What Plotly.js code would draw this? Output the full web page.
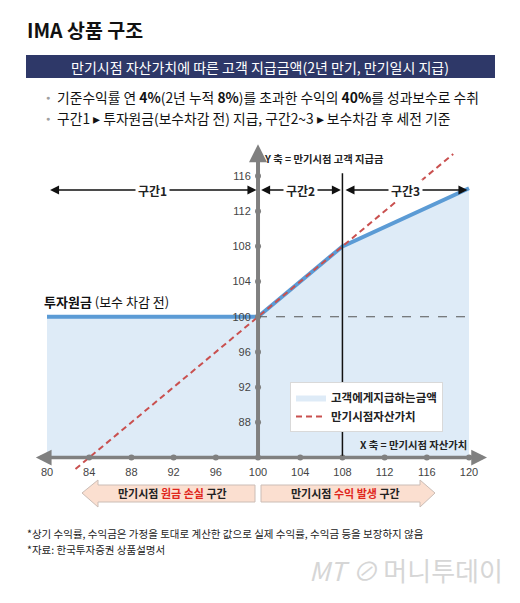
<!DOCTYPE html>
<html><head><meta charset="utf-8">
<script src="https://cdn.plot.ly/plotly-3.0.1.min.js"></script>
<style>html,body{margin:0;padding:0;background:#fff}#c{width:520px;height:603px}</style>
</head><body><div id="c"></div>
<script>
// ---- data ----
const assetValue = [80, 100, 108, 120];          // 만기시점 자산가치
const payout = [100, 100, 108, 114.6];           // 고객 지급금액
const diagX = [82.7, 118.5];                     // 만기시점자산가치 (y = x)
const diagY = [82.7, 118.5];
const xTicks = [80, 84, 88, 92, 96, 100, 104, 108, 112, 116, 120];
const yTicks = [88, 92, 96, 100, 104, 108, 112, 116];
const zoneNames = ['구간1', '구간2', '구간3'];
const zoneFrom = [80, 100, 108];
const zoneTo = [100, 108, 120];
const zoneLevel = 114.4;
const axisBase = 84;
const principal = 100;
const yAxisTop = 119.6;
const xAxisEnds = [78.8, 121.7];
const bullets = [
  '기준수익률 연 <b>4%</b>(2년 누적 <b>8%</b>)를 초과한 수익의 <b>40%</b>를 성과보수로 수취',
  '구간1 ▸ 투자원금(보수차감 전) 지급, 구간2~3 ▸ 보수차감 후 세전 기준'
];
const notes = [
  '*상기 수익률, 수익금은 가정을 토대로 계산한 값으로 실제 수익률, 수익금 등을 보장하지 않음',
  '*자료: 한국투자증권 상품설명서'
];

// ---- layout helpers ----
const W = 520, H = 603;
const PX = x => x / W, PY = y => 1 - y / H;
const xr = [75.545, 124.83];
const yr = [67.47, 136.0];
const KR = '"Noto Sans CJK KR", "Noto Sans", sans-serif';
const AX = 'Liberation Sans, Arial, sans-serif';
const axisGray = '#808080';

const polyX = [assetValue[0]].concat(assetValue, [assetValue[assetValue.length - 1]]);
const polyY = [axisBase].concat(payout, [axisBase]);

const traces = [
  {x: polyX, y: polyY, type: 'scatter', mode: 'lines', fill: 'toself',
   fillcolor: '#deebf7', line: {width: 0}, name: '고객에게지급하는금액',
   showlegend: true, hoverinfo: 'skip'},
  {x: assetValue, y: payout, type: 'scatter', mode: 'lines',
   line: {color: '#5b9bd5', width: 4}, showlegend: false, hoverinfo: 'skip'},
  {x: diagX, y: diagY, type: 'scatter', mode: 'lines',
   line: {color: '#c9504f', width: 2, dash: '6px,4px'}, name: '만기시점자산가치',
   showlegend: true, hoverinfo: 'skip'},
  {x: xTicks, y: xTicks.map(() => axisBase), type: 'scatter', mode: 'markers',
   marker: {color: axisGray, size: 6}, showlegend: false, hoverinfo: 'skip'},
  {x: yTicks.map(() => principal), y: yTicks, type: 'scatter', mode: 'markers',
   marker: {color: axisGray, size: 6}, showlegend: false, hoverinfo: 'skip'}
];

const ann = [];
// header
ann.push({xref: 'paper', yref: 'paper', x: PX(25), y: PY(30), xanchor: 'left', yanchor: 'middle',
  text: '<b>IMA 상품 구조</b>', showarrow: false, font: {family: KR, size: 19.5, color: '#111'}});
ann.push({xref: 'paper', yref: 'paper', x: PX(260), y: PY(66.5), xanchor: 'center', yanchor: 'middle',
  text: '만기시점 자산가치에 따른 고객 지급금액(2년 만기, 만기일시 지급)', showarrow: false,
  font: {family: KR, size: 14, color: '#fff'}});
bullets.forEach((t, i) => {
  const yy = 97 + i * 21;
  ann.push({xref: 'paper', yref: 'paper', x: PX(48), y: PY(yy), xanchor: 'center', yanchor: 'middle',
    text: '●', showarrow: false, font: {family: AX, size: 7, color: '#a0a0a0'}});
  ann.push({xref: 'paper', yref: 'paper', x: PX(55), y: PY(yy), xanchor: 'left', yanchor: 'middle',
    text: t, showarrow: false, font: {family: KR, size: 13.8, color: '#111'}});
});
notes.forEach((t, i) => {
  ann.push({xref: 'paper', yref: 'paper', x: PX(25), y: PY(533 + i * 16), xanchor: 'left', yanchor: 'middle',
    text: t, showarrow: false, font: {family: KR, size: 10.5, color: '#222'}});
});
ann.push({xref: 'paper', yref: 'paper', x: PX(505), y: PY(569), xanchor: 'right', yanchor: 'middle',
  text: '<i>MT ⊘</i> 머니투데이', showarrow: false, font: {family: KR, size: 26, color: '#d6d6d6'}});

// axes arrows
ann.push({x: principal, y: yAxisTop, ax: principal, ay: axisBase, xref: 'x', yref: 'y', axref: 'x', ayref: 'y',
  text: '', showarrow: true, arrowhead: 2, arrowsize: 0.9, arrowwidth: 4, arrowcolor: axisGray, standoff: 0});
ann.push({x: xAxisEnds[1], y: axisBase, ax: xAxisEnds[0], ay: axisBase, xref: 'x', yref: 'y', axref: 'x', ayref: 'y',
  text: '', showarrow: true, arrowhead: 2, arrowside: 'end+start', arrowsize: 0.9, arrowwidth: 3.5,
  arrowcolor: axisGray, standoff: 0, startstandoff: 0});
// zone arrows
zoneNames.forEach((n, i) => {
  ann.push({x: zoneTo[i] - 0.15, y: zoneLevel, ax: zoneFrom[i] + 0.15, ay: zoneLevel,
    xref: 'x', yref: 'y', axref: 'x', ayref: 'y', text: '', showarrow: true, arrowhead: 2,
    arrowside: 'end+start', arrowsize: 1.2, arrowwidth: 1.5, arrowcolor: '#111', standoff: 0, startstandoff: 0});
  ann.push({x: (zoneFrom[i] + zoneTo[i]) / 2, y: zoneLevel, xref: 'x', yref: 'y', showarrow: false,
    text: '<b>' + n + '</b>', bgcolor: '#fff', borderpad: 2,
    font: {family: KR, size: 12, color: '#222'}});
});
// axis titles and labels
ann.push({x: principal + 0.35, y: 118.0, xref: 'x', yref: 'y', xanchor: 'left', yanchor: 'middle',
  text: '<b>Y 축 = 만기시점 고객 지급금</b>', showarrow: false, font: {family: KR, size: 10.3, color: '#222'}});
ann.push({x: 120, y: 85.5, xref: 'x', yref: 'y', xanchor: 'right', yanchor: 'middle',
  text: '<b>X 축 = 만기시점 자산가치</b>', showarrow: false, font: {family: KR, size: 10.3, color: '#222'}});
ann.push({x: 79.5, y: 101.7, xref: 'x', yref: 'y', xanchor: 'left', yanchor: 'middle',
  text: '<b>투자원금</b> (보수 차감 전)', showarrow: false, font: {family: KR, size: 13, color: '#111'}});
// bottom arrow labels
ann.push({xref: 'paper', yref: 'paper', x: PX(172), y: PY(493), xanchor: 'center', yanchor: 'middle', showarrow: false,
  text: '<b>만기시점 <span style="color:#e0261c">원금 손실</span> 구간</b>', font: {family: KR, size: 11, color: '#222'}});
ann.push({xref: 'paper', yref: 'paper', x: PX(345), y: PY(493), xanchor: 'center', yanchor: 'middle', showarrow: false,
  text: '<b>만기시점 <span style="color:#e0261c">수익 발생</span> 구간</b>', font: {family: KR, size: 11, color: '#222'}});

const path = pts => 'M' + pts.map(p => PX(p[0]) + ',' + PY(p[1])).join(' L') + ' Z';
const shapes = [
  {type: 'rect', xref: 'paper', yref: 'paper', x0: PX(26), x1: PX(495), y0: PY(78), y1: PY(55),
   fillcolor: '#2e3868', line: {width: 0}},
  {type: 'line', xref: 'x', yref: 'y', x0: 108, x1: 108, y0: axisBase, y1: 116.3,
   line: {color: '#111', width: 1.5}},
  {type: 'line', xref: 'x', yref: 'y', x0: principal, x1: 120, y0: principal, y1: principal,
   line: {color: '#555', width: 1.2, dash: 'dash'}},
  {type: 'path', xref: 'paper', yref: 'paper',
   path: path([[82, 493], [98, 480], [98, 485], [255, 485], [255, 502], [98, 502], [98, 507]]),
   fillcolor: '#fbdfd0', line: {color: '#cbbdb6', width: 1}},
  {type: 'path', xref: 'paper', yref: 'paper',
   path: path([[435, 493], [420, 480], [420, 485], [261, 485], [261, 502], [420, 502], [420, 507]]),
   fillcolor: '#fbdfd0', line: {color: '#cbbdb6', width: 1}}
];

const layout = {
  width: W, height: H, margin: {l: 0, r: 0, t: 0, b: 0, pad: 0},
  paper_bgcolor: '#fff', plot_bgcolor: 'rgba(0,0,0,0)',
  xaxis: {range: xr, anchor: 'free', position: (axisBase - yr[0]) / (yr[1] - yr[0]),
    tickvals: xTicks, ticks: 'outside', ticklen: 4, tickcolor: 'rgba(0,0,0,0)',
    showgrid: false, zeroline: false, showline: false, fixedrange: true,
    tickfont: {family: AX, size: 11, color: '#444'}},
  yaxis: {range: yr, anchor: 'free', position: (principal - xr[0]) / (xr[1] - xr[0]), side: 'left',
    tickvals: yTicks, ticks: 'outside', ticklen: 5, tickcolor: 'rgba(0,0,0,0)',
    showgrid: false, zeroline: false, showline: false, fixedrange: true,
    tickfont: {family: AX, size: 11, color: '#444'}},
  showlegend: true,
  legend: {x: PX(290), y: PY(382), xanchor: 'left', yanchor: 'top', bgcolor: '#fff',
    bordercolor: '#d9d9d9', borderwidth: 1, font: {family: KR, size: 11.5, color: '#222', weight: 'bold'},
    itemwidth: 30, tracegroupgap: 0},
  annotations: ann, shapes: shapes
};
Plotly.newPlot('c', traces, layout, {displayModeBar: false, staticPlot: true});
</script>
</body></html>
